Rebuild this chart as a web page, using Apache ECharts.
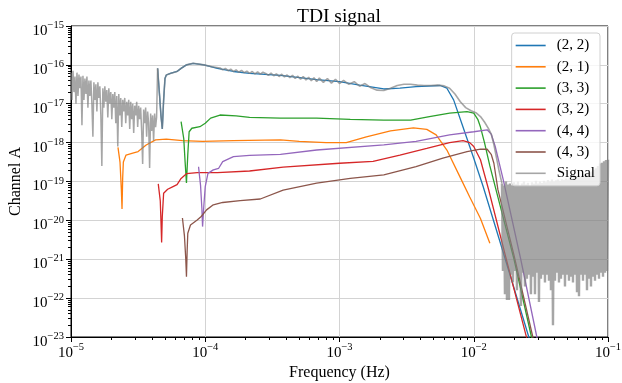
<!DOCTYPE html>
<html>
<head>
<meta charset="utf-8">
<script src="https://cdn.jsdelivr.net/npm/echarts@6/dist/echarts.min.js"></script>
<style>
  html, body { margin: 0; padding: 0; background: #fff; }
  #chart { width: 622px; height: 383px; }
</style>
</head>
<body>
<div id="chart"></div>
<script>
// all points are [log10(frequency), log10(channel A)]
const mode22 = [
  [-4.355, -16.09], [-4.34, -16.8], [-4.33, -17.3], [-4.32, -17.65], [-4.31, -16.9],
  [-4.30, -16.35], [-4.29, -16.26], [-4.26, -16.22], [-4.21, -16.17], [-4.18, -16.09],
  [-4.14, -16.0], [-4.09, -15.96], [-4.01, -16.0], [-3.91, -16.09], [-3.79, -16.17],
  [-3.67, -16.22], [-3.44, -16.27], [-3.17, -16.38], [-3.0, -16.43], [-2.85, -16.52],
  [-2.67, -16.62], [-2.55, -16.6], [-2.43, -16.56], [-2.25, -16.53], [-2.20, -16.6],
  [-2.15, -16.9], [-2.08, -17.6], [-2.0, -18.4], [-1.93, -19.13], [-1.8, -20.6],
  [-1.59, -23.0], [-1.57, -23.3]
];
const mode21 = [
  [-4.65, -18.12], [-4.635, -18.5], [-4.625, -19.2], [-4.62, -19.71], [-4.615, -18.9],
  [-4.61, -18.5], [-4.59, -18.32], [-4.54, -18.27], [-4.50, -18.23], [-4.44, -18.06],
  [-4.37, -17.93], [-4.29, -17.91], [-4.17, -17.95], [-4.02, -17.97], [-3.79, -17.95],
  [-3.44, -17.93], [-3.30, -17.97], [-3.1, -18.0], [-2.95, -18.0], [-2.80, -17.85],
  [-2.62, -17.70], [-2.45, -17.62], [-2.35, -17.66], [-2.28, -17.8], [-2.20, -18.19],
  [-2.10, -18.9], [-2.03, -19.4], [-1.95, -19.95], [-1.88, -20.59]
];
const mode33 = [
  [-4.18, -17.46], [-4.16, -17.9], [-4.15, -18.5], [-4.14, -19.04], [-4.13, -18.3],
  [-4.12, -17.72], [-4.10, -17.63], [-4.04, -17.59], [-4.0, -17.5], [-3.96, -17.37],
  [-3.89, -17.29], [-3.77, -17.31], [-3.67, -17.35], [-3.44, -17.37], [-3.17, -17.37],
  [-2.92, -17.40], [-2.67, -17.42], [-2.47, -17.42], [-2.33, -17.33], [-2.18, -17.24],
  [-2.05, -17.2], [-2.0, -17.24], [-1.97, -17.4], [-1.95, -17.6], [-1.92, -18.0],
  [-1.88, -18.6], [-1.82, -19.4], [-1.7, -21.0], [-1.57, -23.0], [-1.55, -23.3]
];
const mode32 = [
  [-4.35, -19.06], [-4.335, -19.5], [-4.33, -20.0], [-4.325, -20.57], [-4.32, -19.9],
  [-4.31, -19.3], [-4.28, -19.2], [-4.24, -19.13], [-4.21, -19.08], [-4.18, -18.92],
  [-4.14, -18.8], [-4.06, -18.77], [-3.91, -18.77], [-3.67, -18.73], [-3.42, -18.63],
  [-3.0, -18.53], [-2.75, -18.48], [-2.55, -18.32], [-2.35, -18.15], [-2.18, -18.0],
  [-2.08, -17.95], [-2.03, -18.0], [-2.0, -18.1], [-1.95, -18.44], [-1.89, -19.2],
  [-1.75, -21.1], [-1.6, -23.1]
];
const mode44 = [
  [-4.05, -18.62], [-4.035, -19.1], [-4.025, -19.7], [-4.02, -20.16], [-4.01, -19.6],
  [-4.0, -19.13], [-3.98, -18.79], [-3.94, -18.7], [-3.90, -18.66], [-3.87, -18.49],
  [-3.79, -18.36], [-3.67, -18.33], [-3.44, -18.3], [-3.17, -18.19], [-2.67, -18.06],
  [-2.43, -17.97], [-2.18, -17.8], [-2.0, -17.72], [-1.90, -17.67], [-1.87, -17.78],
  [-1.84, -18.1], [-1.78, -18.96], [-1.65, -21.0], [-1.53, -23.0], [-1.52, -23.2]
];
const mode43 = [
  [-4.17, -19.94], [-4.155, -20.4], [-4.145, -21.0], [-4.14, -21.45], [-4.135, -20.8],
  [-4.13, -20.33], [-4.11, -20.12], [-4.06, -19.99], [-4.03, -19.9], [-3.99, -19.73],
  [-3.94, -19.6], [-3.87, -19.54], [-3.74, -19.49], [-3.59, -19.45], [-3.42, -19.22],
  [-3.17, -19.04], [-2.92, -18.92], [-2.67, -18.83], [-2.43, -18.62], [-2.23, -18.4],
  [-2.05, -18.23], [-1.95, -18.17], [-1.90, -18.17], [-1.87, -18.3], [-1.85, -18.53],
  [-1.82, -19.21], [-1.7, -20.9], [-1.56, -23.0], [-1.55, -23.2]
];

// signal: noisy low-frequency part, sampled evenly in log f from -5.0 to -4.355
const signalLowRange = [-5.0, -4.355];
const signalLow = [
  -16.2, -16.9, -16.15, -16.7, -16.3, -17.0, -16.2, -16.8, -16.25, -16.6,
  -16.3, -17.55, -16.28, -16.9, -16.35, -16.75, -16.3, -17.1, -16.4, -16.8,
  -16.4, -17.0, -17.85, -16.45, -16.9, -16.5, -17.2, -16.45, -16.85, -16.55,
  -17.3, -18.6, -16.6, -17.1, -16.55, -16.95, -16.65, -17.35, -16.6, -17.0,
  -16.7, -17.4, -16.75, -17.1, -16.7, -17.5, -16.8, -18.1, -16.75, -17.3,
  -16.85, -17.6, -16.9, -17.2, -16.85, -17.5, -16.95, -17.3, -16.9, -17.65,
  -16.95, -17.4, -17.0, -17.75, -17.05, -17.3, -16.95, -17.6, -17.05, -17.4,
  -17.1, -17.7, -18.55, -17.15, -17.5, -17.1, -17.85, -17.2, -17.5, -18.65,
  -17.25, -17.7, -17.3, -17.95, -17.25, -17.6, -17.35, -16.09
];
// signal: smooth middle part with its small ripples
const signalMid = [
  [-4.355, -16.09], [-4.34, -16.8], [-4.33, -17.3], [-4.32, -17.65], [-4.31, -16.9],
  [-4.30, -16.35], [-4.29, -16.26], [-4.26, -16.22], [-4.21, -16.17], [-4.18, -16.09],
  [-4.14, -16.0], [-4.09, -15.96], [-4.01, -16.0], [-3.95, -16.05],
  [-3.89, -16.08], [-3.87, -16.13], [-3.85, -16.09], [-3.83, -16.15], [-3.81, -16.11],
  [-3.79, -16.17], [-3.77, -16.13], [-3.75, -16.19], [-3.73, -16.14], [-3.71, -16.2],
  [-3.69, -16.16], [-3.67, -16.22], [-3.65, -16.17], [-3.63, -16.23], [-3.61, -16.18],
  [-3.59, -16.24], [-3.57, -16.19], [-3.55, -16.22], [-3.53, -16.27], [-3.51, -16.21],
  [-3.49, -16.28], [-3.47, -16.23], [-3.45, -16.30], [-3.43, -16.24], [-3.41, -16.31],
  [-3.39, -16.26], [-3.37, -16.33], [-3.35, -16.27], [-3.33, -16.35], [-3.31, -16.29],
  [-3.29, -16.37], [-3.27, -16.30], [-3.25, -16.39], [-3.23, -16.32], [-3.21, -16.41],
  [-3.19, -16.33], [-3.17, -16.43], [-3.15, -16.34], [-3.12, -16.45], [-3.09, -16.35],
  [-3.06, -16.47], [-3.03, -16.37], [-3.0, -16.48], [-2.97, -16.40], [-2.93, -16.50],
  [-2.89, -16.43], [-2.85, -16.55], [-2.81, -16.48], [-2.77, -16.58], [-2.72, -16.65],
  [-2.67, -16.66], [-2.62, -16.6], [-2.57, -16.53], [-2.52, -16.5], [-2.47, -16.5],
  [-2.42, -16.52], [-2.37, -16.53], [-2.32, -16.53], [-2.27, -16.52], [-2.22, -16.54],
  [-2.18, -16.6], [-2.14, -16.75], [-2.10, -16.95], [-2.06, -17.1], [-2.02, -17.18],
  [-1.98, -17.24], [-1.95, -17.33], [-1.92, -17.47], [-1.89, -17.64], [-1.87, -17.78],
  [-1.85, -18.05], [-1.83, -18.4], [-1.81, -18.75], [-1.79, -19.05]
];
// signal: noise floor at high frequency, sampled evenly in log f from -1.79 to -1.0
const signalHighRange = [-1.79, -1.0];
const signalHigh = [
  -19.05, -21.3, -19.1, -21.9, -19.0, -22.05, -19.08, -22.05, -19.05, -21.4,
  -19.1, -21.6, -19.02, -21.3, -19.07, -21.8, -19.0, -21.45, -19.1, -22.2,
  -19.05, -21.35, -19.0, -21.7, -19.08, -21.5, -19.03, -21.4, -19.1, -21.9,
  -19.02, -21.45, -19.06, -21.9, -18.98, -21.35, -19.05, -22.1, -19.0, -21.5,
  -19.04, -21.4, -18.98, -21.6, -19.02, -21.4, -18.96, -21.55, -19.0, -21.8,
  -18.95, -22.7, -19.0, -21.55, -18.97, -21.35, -18.95, -21.6, -18.98, -21.5,
  -18.94, -21.4, -18.96, -21.7, -18.92, -21.4, -18.95, -21.55, -18.9, -21.45,
  -18.92, -21.6, -18.88, -21.4, -18.9, -21.85, -18.86, -21.95, -18.88, -21.4,
  -18.85, -21.55, -18.82, -21.4, -18.8, -21.8, -18.78, -21.5, -18.76, -21.7,
  -18.74, -21.45, -18.7, -21.55, -18.66, -21.4, -18.6, -21.5, -18.54, -21.35,
  -18.52, -21.45, -18.48, -21.35, -18.45, -21.3, -18.44
];

const modeNames = ["(2, 2)", "(2, 1)", "(3, 3)", "(3, 2)", "(4, 4)", "(4, 3)"];
const modeColors = ["#1f77b4", "#ff7f0e", "#2ca02c", "#d62728", "#9467bd", "#8c564b"];
const signalName = "Signal";
const signalColor = "rgba(128,128,128,0.7)";

const toPoint = (p) => [Math.pow(10, p[0]), Math.pow(10, p[1])];
const sampled = (range, vals) =>
  vals.map((v, i) => [range[0] + (i * (range[1] - range[0])) / (vals.length - 1), v]);

// log minor ticks 2..9 in each decade
function minorTicks(lo, hi) {
  const out = [];
  for (let e = lo; e < hi; e++) {
    for (let k = 2; k <= 9; k++) out.push(k * Math.pow(10, e));
  }
  return out;
}

const serif = "Liberation Serif, Times New Roman, serif";
const powLabel = (v) => {
  const e = Math.round(Math.log10(v));
  return "{b|10}{s|" + (e < 0 ? "\u2212" + -e : e) + "}";
};
const richLabel = {
  b: { fontFamily: serif, fontSize: 15, color: "#000" },
  s: { fontFamily: serif, fontSize: 10.5, color: "#000", padding: [0, 0, 11, 0] },
};

const lineSeries = (name, pts, color, width) => ({
  name,
  type: "line",
  data: pts.map(toPoint),
  symbol: "none",
  xAxisIndex: 0,
  yAxisIndex: 0,
  lineStyle: { width, color },
  itemStyle: { color },
  z: 2,
});

const series = modeNames.map((n, i) =>
  lineSeries(n, [mode22, mode21, mode33, mode32, mode44, mode43][i], modeColors[i], 1.3)
);
series.push(lineSeries(signalName, sampled(signalLowRange, signalLow), signalColor, 1.5));
series.push(lineSeries(signalName, signalMid, signalColor, 1.6));
series.push(lineSeries(signalName, sampled(signalHighRange, signalHigh), signalColor, 2.4));
series.slice(6).forEach((s) => (s.z = 3));

const chart = echarts.init(document.getElementById("chart"));

const option = {
  animation: false,
  backgroundColor: "#fff",
  title: {
    text: "TDI signal",
    left: 292,
    top: 2,
    textStyle: { fontFamily: serif, fontSize: 19.5, fontWeight: "normal", color: "#000" },
  },
  legend: {
    orient: "vertical",
    right: 22,
    top: 33,
    icon: "rect",
    itemWidth: 30,
    itemHeight: 1.6,
    itemGap: 6.3,
    padding: [5, 5, 5, 4],
    backgroundColor: "rgba(255,255,255,0.8)",
    borderColor: "#d0d0d0",
    borderWidth: 1,
    borderRadius: 3,
    textStyle: { fontFamily: serif, fontSize: 15, color: "#000", padding: [0, 0, 0, 6] },
    data: modeNames.concat([signalName]),
  },
  grid: {
    left: 71,
    right: 14,
    top: 26,
    bottom: 46,
    containLabel: false,
    outerBoundsMode: "none",
    show: true,
    borderColor: "#000",
    borderWidth: 1,
  },
  xAxis: [
    {
      type: "log",
      logBase: 10,
      min: 1e-5,
      max: 1e-1,
      splitNumber: 4,
      name: "Frequency (Hz)",
      nameLocation: "middle",
      nameGap: 28,
      nameMoveOverlap: false,
      nameTextStyle: { fontFamily: serif, fontSize: 16, color: "#000" },
      axisLine: { show: true, lineStyle: { color: "#000" } },
      axisTick: { show: true, length: 5, lineStyle: { color: "#000" } },
      axisLabel: { formatter: powLabel, rich: richLabel, margin: 5, showMinLabel: true, showMaxLabel: true },
      splitLine: { show: true, lineStyle: { color: "#d3d3d3", width: 1 } },
    },
    {
      type: "log",
      logBase: 10,
      min: 1e-5,
      max: 1e-1,
      position: "bottom",
      axisLine: { show: false },
      axisLabel: { show: false },
      splitLine: { show: false },
      axisTick: { show: true, length: 3, customValues: minorTicks(-5, -1), lineStyle: { color: "#000" } },
    },
  ],
  yAxis: [
    {
      type: "log",
      logBase: 10,
      min: 9.999e-24,
      max: 1e-15,
      splitNumber: 8,
      name: "Channel A",
      nameLocation: "middle",
      nameGap: 47,
      nameMoveOverlap: false,
      nameTextStyle: { fontFamily: serif, fontSize: 16, color: "#000" },
      axisLine: { show: true, lineStyle: { color: "#000" } },
      axisTick: { show: true, length: 5, lineStyle: { color: "#000" } },
      axisLabel: {
        formatter: powLabel, rich: richLabel, margin: 7, padding: [10, 0, 0, 0],
        showMinLabel: true, showMaxLabel: true, hideOverlap: false,
      },
      splitLine: { show: true, lineStyle: { color: "#d3d3d3", width: 1 } },
    },
    {
      type: "log",
      logBase: 10,
      min: 9.999e-24,
      max: 1e-15,
      position: "left",
      axisLine: { show: false },
      axisLabel: { show: false },
      splitLine: { show: false },
      axisTick: { show: true, length: 3, customValues: minorTicks(-23, -15), lineStyle: { color: "#000" } },
    },
  ],
  series,
};

chart.setOption(option);
</script>
</body>
</html>
